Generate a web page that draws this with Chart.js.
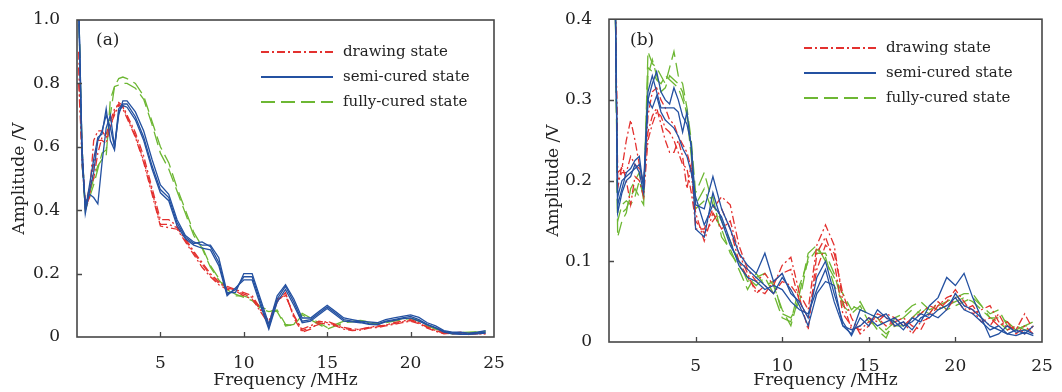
<!DOCTYPE html>
<html>
<head>
<meta charset="utf-8">
<script src="https://cdn.jsdelivr.net/npm/chart.js@4.4.1/dist/chart.umd.min.js"></script>
<style>
  html, body { margin: 0; padding: 0; background: #fff; }
  #wrap { position: relative; width: 1062px; height: 392px; overflow: hidden; }
  .panel { position: absolute; top: 0; width: 531px; height: 392px; }
</style>
</head>
<body>
<div id="wrap">
  <div class="panel" style="left:0"><canvas id="chartA" width="531" height="392"></canvas></div>
  <div class="panel" style="left:531px"><canvas id="chartB" width="531" height="392"></canvas></div>
</div>
<script>
// frequencies (MHz) sampled for each panel
const freqA = [0.1, 0.3, 0.5, 0.75, 1, 1.25, 1.5, 1.75, 2, 2.25, 2.5, 2.75, 3,
  3.5, 4, 4.5, 5, 5.5, 6, 6.5, 7, 7.5, 8, 8.5, 9, 9.5, 10, 10.5, 11, 11.5, 12, 12.5,
  13, 13.5, 14, 14.5, 15, 15.5, 16, 16.5, 17, 17.5, 18, 18.5, 19, 19.5, 20, 20.5,
  21, 21.5, 22, 22.5, 23, 23.5, 24, 24.5];
const freqB = [0.35, 0.5, 0.75, 1, 1.25, 1.5, 1.75, 2, 2.25, 2.5, 2.75, 3, 3.25, 3.5,
  3.75, 4, 4.25, 4.5, 4.75, 5, 5.5, 6, 6.5, 7, 7.5, 8, 8.5, 9, 9.5, 10, 10.5, 11, 11.5,
  12, 12.5, 13, 13.5, 14, 14.5, 15, 15.5, 16, 16.5, 17, 17.5, 18, 18.5, 19, 19.5, 20,
  20.5, 21, 21.5, 22, 22.5, 23, 23.5, 24, 24.5];

const xTicks = [0, 5, 10, 15, 20, 25];
const yTicksA = [0, 0.2, 0.4, 0.6, 0.8, 1.0];
const yTicksB = [0, 0.1, 0.2, 0.3, 0.4];
const stateNames = ['drawing state', 'semi-cured state', 'fully-cured state'];

// panel (a) amplitudes (V)
const aDraw1 = [0.85, 0.6, 0.40, 0.45, 0.62, 0.65, 0.65, 0.63, 0.66, 0.71, 0.74, 0.73, 0.70,
  0.645, 0.57, 0.47, 0.37, 0.37, 0.35, 0.31, 0.27, 0.235, 0.20, 0.175, 0.16, 0.15, 0.14, 0.13,
  0.09, 0.045, 0.12, 0.13, 0.07, 0.02, 0.03, 0.04, 0.05, 0.04, 0.03, 0.025, 0.025, 0.03, 0.032,
  0.038, 0.042, 0.048, 0.052, 0.045, 0.03, 0.02, 0.012, 0.01, 0.012, 0.01, 0.01, 0.01];
const aDraw2 = [0.9, 0.55, 0.42, 0.47, 0.50, 0.58, 0.63, 0.64, 0.68, 0.72, 0.735, 0.72, 0.69,
  0.63, 0.55, 0.45, 0.35, 0.345, 0.34, 0.30, 0.26, 0.22, 0.19, 0.165, 0.15, 0.145, 0.13, 0.12,
  0.08, 0.04, 0.11, 0.14, 0.06, 0.015, 0.025, 0.045, 0.04, 0.035, 0.025, 0.02, 0.022, 0.028, 0.03,
  0.035, 0.04, 0.045, 0.05, 0.042, 0.028, 0.018, 0.01, 0.012, 0.015, 0.008, 0.012, 0.01];
const aDraw3 = [0.8, 0.58, 0.41, 0.44, 0.55, 0.62, 0.62, 0.61, 0.67, 0.70, 0.73, 0.725, 0.695,
  0.635, 0.555, 0.46, 0.355, 0.355, 0.345, 0.305, 0.265, 0.23, 0.195, 0.17, 0.155, 0.148, 0.135, 0.125,
  0.085, 0.05, 0.115, 0.135, 0.065, 0.025, 0.035, 0.05, 0.045, 0.038, 0.028, 0.022, 0.025, 0.03, 0.035,
  0.037, 0.045, 0.05, 0.055, 0.045, 0.032, 0.02, 0.014, 0.015, 0.01, 0.012, 0.01, 0.012];
const aSemi1 = [1.05, 0.6, 0.39, 0.46, 0.52, 0.62, 0.65, 0.70, 0.66, 0.60, 0.70, 0.745, 0.745,
  0.71, 0.65, 0.56, 0.48, 0.45, 0.37, 0.32, 0.30, 0.29, 0.29, 0.25, 0.14, 0.14, 0.20, 0.20,
  0.12, 0.04, 0.13, 0.165, 0.12, 0.06, 0.06, 0.08, 0.10, 0.08, 0.06, 0.055, 0.05, 0.048, 0.045,
  0.055, 0.06, 0.065, 0.07, 0.062, 0.045, 0.035, 0.02, 0.015, 0.015, 0.012, 0.015, 0.02];
const aSemi2 = [1.05, 0.55, 0.42, 0.45, 0.44, 0.42, 0.55, 0.66, 0.70, 0.60, 0.72, 0.735, 0.735,
  0.695, 0.63, 0.54, 0.465, 0.44, 0.36, 0.315, 0.295, 0.30, 0.285, 0.235, 0.135, 0.15, 0.19, 0.19,
  0.11, 0.03, 0.12, 0.16, 0.11, 0.05, 0.055, 0.075, 0.095, 0.075, 0.055, 0.05, 0.048, 0.042, 0.04,
  0.05, 0.055, 0.06, 0.065, 0.055, 0.04, 0.03, 0.018, 0.012, 0.01, 0.01, 0.012, 0.015];
const aSemi3 = [1.05, 0.6, 0.40, 0.48, 0.56, 0.63, 0.64, 0.72, 0.62, 0.59, 0.71, 0.73, 0.725,
  0.685, 0.62, 0.53, 0.455, 0.43, 0.35, 0.31, 0.29, 0.28, 0.275, 0.225, 0.13, 0.155, 0.18, 0.18,
  0.10, 0.025, 0.11, 0.15, 0.10, 0.045, 0.05, 0.07, 0.09, 0.07, 0.05, 0.048, 0.045, 0.04, 0.038,
  0.048, 0.052, 0.058, 0.06, 0.05, 0.038, 0.028, 0.015, 0.01, 0.008, 0.008, 0.01, 0.012];
const aFull1 = [1.05, 0.6, 0.41, 0.45, 0.50, 0.54, 0.56, 0.57, 0.75, 0.79, 0.795, 0.80, 0.80,
  0.785, 0.75, 0.67, 0.58, 0.53, 0.46, 0.39, 0.32, 0.28, 0.22, 0.18, 0.15, 0.135, 0.125, 0.115,
  0.09, 0.08, 0.085, 0.04, 0.035, 0.07, 0.055, 0.04, 0.025, 0.035, 0.045, 0.048, 0.05, 0.045, 0.04,
  0.045, 0.05, 0.055, 0.058, 0.05, 0.035, 0.025, 0.012, 0.012, 0.014, 0.015, 0.016, 0.018];
const aFull2 = [1.05, 0.55, 0.40, 0.44, 0.48, 0.53, 0.58, 0.59, 0.70, 0.79, 0.815, 0.82, 0.815,
  0.80, 0.76, 0.68, 0.60, 0.55, 0.47, 0.40, 0.33, 0.285, 0.225, 0.185, 0.15, 0.13, 0.13, 0.12,
  0.095, 0.085, 0.08, 0.035, 0.04, 0.075, 0.06, 0.045, 0.03, 0.04, 0.05, 0.05, 0.052, 0.048, 0.042,
  0.048, 0.052, 0.058, 0.06, 0.052, 0.038, 0.028, 0.015, 0.01, 0.012, 0.014, 0.015, 0.016];

// panel (b) amplitudes (V)
const bDraw1 = [0.45, 0.21, 0.215, 0.25, 0.275, 0.25, 0.22, 0.19, 0.28, 0.31, 0.315, 0.30, 0.29,
  0.275, 0.27, 0.255, 0.245, 0.235, 0.215, 0.14, 0.14, 0.165, 0.18, 0.17, 0.12, 0.09, 0.075, 0.085,
  0.07, 0.095, 0.105, 0.06, 0.04, 0.12, 0.145, 0.12, 0.05, 0.015, 0.02, 0.03, 0.025, 0.035, 0.03,
  0.02, 0.03, 0.035, 0.045, 0.04, 0.05, 0.065, 0.05, 0.035, 0.04, 0.045, 0.025, 0.02, 0.015, 0.035, 0.015];
const bDraw2 = [0.45, 0.20, 0.21, 0.21, 0.23, 0.22, 0.215, 0.20, 0.26, 0.28, 0.29, 0.27, 0.25,
  0.235, 0.235, 0.25, 0.23, 0.19, 0.22, 0.16, 0.125, 0.16, 0.14, 0.15, 0.11, 0.085, 0.06, 0.07,
  0.06, 0.075, 0.07, 0.055, 0.015, 0.11, 0.13, 0.10, 0.035, 0.02, 0.015, 0.025, 0.03, 0.02, 0.025,
  0.03, 0.02, 0.015, 0.035, 0.05, 0.04, 0.055, 0.04, 0.045, 0.03, 0.02, 0.035, 0.015, 0.02, 0.01, 0.02];
const bDraw3 = [0.45, 0.19, 0.22, 0.20, 0.17, 0.205, 0.20, 0.18, 0.25, 0.27, 0.285, 0.28, 0.265,
  0.26, 0.25, 0.235, 0.22, 0.215, 0.185, 0.15, 0.135, 0.15, 0.165, 0.14, 0.10, 0.08, 0.065, 0.06,
  0.075, 0.085, 0.09, 0.05, 0.03, 0.09, 0.12, 0.11, 0.06, 0.03, 0.01, 0.02, 0.035, 0.03, 0.02,
  0.025, 0.01, 0.025, 0.03, 0.045, 0.055, 0.06, 0.045, 0.04, 0.025, 0.03, 0.02, 0.025, 0.01, 0.02, 0.01];
const bSemi1 = [0.45, 0.17, 0.19, 0.21, 0.215, 0.225, 0.23, 0.19, 0.30, 0.32, 0.335, 0.31, 0.30,
  0.295, 0.315, 0.30, 0.28, 0.27, 0.245, 0.17, 0.165, 0.205, 0.165, 0.14, 0.11, 0.095, 0.085, 0.11,
  0.075, 0.085, 0.06, 0.05, 0.03, 0.08, 0.10, 0.06, 0.025, 0.008, 0.03, 0.02, 0.04, 0.03, 0.025,
  0.015, 0.03, 0.025, 0.045, 0.055, 0.08, 0.07, 0.085, 0.055, 0.03, 0.006, 0.01, 0.02, 0.012, 0.015, 0.01];
const bSemi2 = [0.45, 0.18, 0.20, 0.205, 0.21, 0.215, 0.22, 0.195, 0.31, 0.33, 0.31, 0.29, 0.29,
  0.29, 0.29, 0.285, 0.26, 0.285, 0.24, 0.14, 0.13, 0.185, 0.15, 0.12, 0.10, 0.09, 0.08, 0.07,
  0.06, 0.08, 0.065, 0.045, 0.02, 0.06, 0.075, 0.07, 0.02, 0.01, 0.04, 0.035, 0.03, 0.035, 0.02,
  0.025, 0.015, 0.03, 0.035, 0.03, 0.04, 0.06, 0.045, 0.04, 0.03, 0.02, 0.015, 0.01, 0.015, 0.01, 0.02];
const bSemi3 = [0.45, 0.16, 0.185, 0.20, 0.205, 0.22, 0.21, 0.185, 0.30, 0.29, 0.305, 0.285, 0.275,
  0.27, 0.265, 0.255, 0.24, 0.23, 0.21, 0.18, 0.145, 0.17, 0.155, 0.125, 0.095, 0.08, 0.075, 0.065,
  0.07, 0.065, 0.05, 0.04, 0.035, 0.065, 0.09, 0.05, 0.02, 0.015, 0.02, 0.03, 0.02, 0.025, 0.03,
  0.02, 0.025, 0.035, 0.03, 0.04, 0.045, 0.055, 0.04, 0.035, 0.025, 0.015, 0.02, 0.01, 0.008, 0.012, 0.008];
const bFull1 = [0.45, 0.16, 0.16, 0.165, 0.18, 0.19, 0.18, 0.17, 0.36, 0.345, 0.34, 0.33, 0.32,
  0.34, 0.36, 0.33, 0.32, 0.29, 0.25, 0.185, 0.21, 0.17, 0.15, 0.125, 0.10, 0.075, 0.08, 0.085,
  0.07, 0.04, 0.02, 0.06, 0.11, 0.12, 0.10, 0.08, 0.06, 0.04, 0.05, 0.03, 0.015, 0.005, 0.03,
  0.035, 0.045, 0.05, 0.04, 0.045, 0.05, 0.055, 0.06, 0.06, 0.045, 0.035, 0.04, 0.02, 0.015, 0.02, 0.02];
const bFull2 = [0.45, 0.13, 0.15, 0.16, 0.19, 0.20, 0.21, 0.175, 0.34, 0.335, 0.325, 0.32, 0.33,
  0.325, 0.32, 0.315, 0.30, 0.285, 0.24, 0.17, 0.19, 0.16, 0.14, 0.11, 0.095, 0.08, 0.07, 0.08,
  0.06, 0.03, 0.025, 0.07, 0.10, 0.115, 0.105, 0.07, 0.05, 0.045, 0.04, 0.035, 0.03, 0.015, 0.025,
  0.03, 0.04, 0.035, 0.045, 0.04, 0.045, 0.05, 0.055, 0.05, 0.04, 0.03, 0.025, 0.015, 0.02, 0.015, 0.015];
const bFull3 = [0.45, 0.15, 0.17, 0.175, 0.17, 0.18, 0.20, 0.18, 0.33, 0.35, 0.33, 0.31, 0.315,
  0.33, 0.325, 0.32, 0.31, 0.28, 0.23, 0.165, 0.175, 0.18, 0.13, 0.115, 0.09, 0.065, 0.085, 0.07,
  0.075, 0.035, 0.03, 0.05, 0.105, 0.11, 0.11, 0.085, 0.045, 0.035, 0.045, 0.025, 0.02, 0.01, 0.02,
  0.02, 0.03, 0.04, 0.035, 0.05, 0.04, 0.045, 0.05, 0.055, 0.045, 0.03, 0.03, 0.025, 0.015, 0.02, 0.025];

const RED = '#e3312f', BLUE = '#2451a1', GREEN = '#6db733';
const styles = [
  { color: RED, dash: [8, 3, 2, 3] },
  { color: BLUE, dash: [] },
  { color: GREEN, dash: [14, 6] }
];
const FONT = '"DejaVu Serif", "Liberation Serif", serif';

function series(freq, vals, state, first){
  return {
    label: stateNames[state],
    legendRow: first ? state : -1,
    data: freq.map((f, i) => ({ x: f, y: vals[i] })),
    borderColor: styles[state].color,
    borderDash: styles[state].dash,
    borderWidth: 1.3,
    pointRadius: 0,
    tension: 0,
    fill: false
  };
}

// draws the box, inward ticks, the panel tag and the legend
const decoPlugin = {
  id: 'deco',
  afterDraw(chart, args, opts){
    const { ctx, chartArea: a, scales } = chart;
    ctx.save();
    ctx.strokeStyle = '#474747';
    ctx.lineWidth = 1.6;
    ctx.strokeRect(a.left, a.top, a.right - a.left, a.bottom - a.top);
    ctx.lineWidth = 1.3;
    ctx.beginPath();
    scales.x.ticks.forEach(t => {
      if (t.value <= scales.x.min || t.value >= scales.x.max) return;
      const px = Math.round(scales.x.getPixelForValue(t.value)) + 0.5;
      ctx.moveTo(px, a.bottom); ctx.lineTo(px, a.bottom - 5);
    });
    scales.y.ticks.forEach(t => {
      if (t.value <= scales.y.min || t.value >= scales.y.max) return;
      const py = Math.round(scales.y.getPixelForValue(t.value)) + 0.5;
      ctx.moveTo(a.left, py); ctx.lineTo(a.left + 5, py);
    });
    ctx.stroke();

    ctx.fillStyle = '#222';
    ctx.textBaseline = 'middle';
    ctx.font = '17px ' + FONT;
    ctx.fillText(opts.tag, opts.tagX, opts.tagY);

    ctx.font = '15px ' + FONT;
    chart.data.datasets.filter(d => d.legendRow >= 0)
      .sort((p, q) => p.legendRow - q.legendRow)
      .forEach((d, i) => {
        const y = opts.legY + i * 25;
        ctx.strokeStyle = d.borderColor;
        ctx.lineWidth = 1.8;
        ctx.setLineDash(d.borderDash);
        ctx.beginPath();
        ctx.moveTo(opts.legX, y); ctx.lineTo(opts.legX + 72, y);
        ctx.stroke();
        ctx.setLineDash([]);
        ctx.fillText(d.label, opts.legX + 82, y);
      });
    ctx.restore();
  }
};

function makeChart(id, datasets, yMax, yTicks, pad, axisW, axisH, yTitlePad, tickPadX, deco){
  return new Chart(document.getElementById(id), {
    type: 'line',
    data: { datasets },
    options: {
      responsive: false,
      animation: false,
      devicePixelRatio: 1,
      layout: { padding: pad },
      plugins: { legend: { display: false }, tooltip: { enabled: false }, deco },
      scales: {
        x: {
          type: 'linear', min: 0, max: 25,
          grid: { display: false }, border: { display: false },
          afterBuildTicks: s => { s.ticks = xTicks.map(v => ({ value: v })); },
          afterFit: s => { s.height = axisH; },
          ticks: {
            padding: tickPadX, color: '#222',
            font: { family: FONT, size: 17, lineHeight: 1.2 },
            callback: v => v === 0 ? '' : String(v)
          },
          title: {
            display: true, text: 'Frequency /MHz', color: '#222',
            font: { family: FONT, size: 17, lineHeight: 1.2 },
            padding: { top: 0, bottom: 1 }
          }
        },
        y: {
          min: 0, max: yMax,
          grid: { display: false }, border: { display: false },
          afterBuildTicks: s => { s.ticks = yTicks.map(v => ({ value: v })); },
          afterFit: s => { s.width = axisW; },
          ticks: {
            padding: 9, color: '#222',
            font: { family: FONT, size: 17, lineHeight: 1.2 },
            callback: v => v === 0 ? '0' : v.toFixed(1)
          },
          title: {
            display: true, text: 'Amplitude /V', color: '#222',
            font: { family: FONT, size: 17, lineHeight: 1.2 },
            padding: { top: yTitlePad, bottom: 0 }
          }
        }
      }
    },
    plugins: [decoPlugin]
  });
}

const dsA = [
  series(freqA, aSemi1, 1, true), series(freqA, aSemi2, 1), series(freqA, aSemi3, 1),
  series(freqA, aDraw1, 0, true), series(freqA, aDraw2, 0), series(freqA, aDraw3, 0),
  series(freqA, aFull1, 2, true), series(freqA, aFull2, 2)
];
const dsB = [
  series(freqB, bSemi1, 1, true), series(freqB, bSemi2, 1), series(freqB, bSemi3, 1),
  series(freqB, bDraw1, 0, true), series(freqB, bDraw2, 0), series(freqB, bDraw3, 0),
  series(freqB, bFull1, 2, true), series(freqB, bFull2, 2), series(freqB, bFull3, 2)
];

makeChart('chartA', dsA, 1.0, yTicksA, { top: 20, right: 37, left: 0, bottom: 0 }, 77, 55, 9, 8,
  { tag: '(a)', tagX: 96, tagY: 41, legX: 261, legY: 52 });
makeChart('chartB', dsB, 0.4, yTicksB, { top: 18, right: 20, left: 0, bottom: 0 }, 78, 50, 12, 6,
  { tag: '(b)', tagX: 99, tagY: 41, legX: 273, legY: 48 });
</script>
</body>
</html>
